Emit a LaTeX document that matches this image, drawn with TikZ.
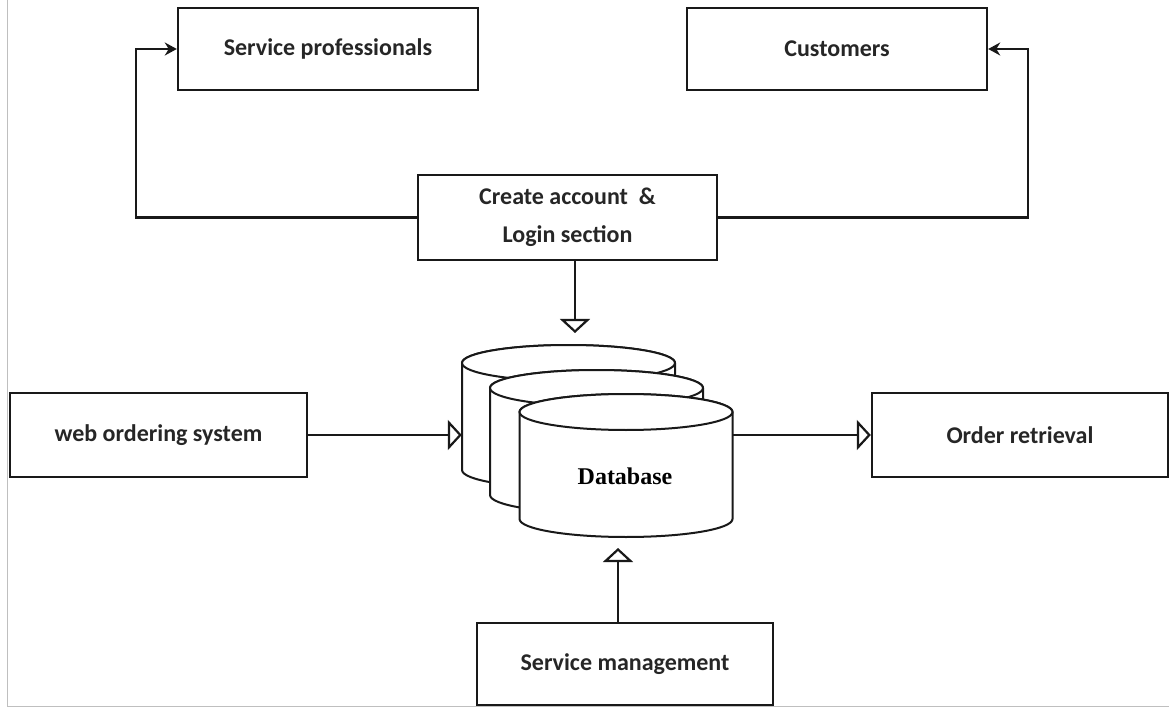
\documentclass[tikz,border=0pt]{standalone}
\usepackage{fontspec}
\setmainfont{Carlito}
\newfontfamily\dbfont{Liberation Serif}
\usetikzlibrary{arrows.meta,calc}
\newcommand{\dbcyl}[4]{%
  \path[cyl] ({#1-106.5},#2) -- ({#1-106.5},#3)
    arc[start angle=180,end angle=360,x radius=106.5pt,y radius=18pt]
    -- ({#1+106.5},#2)
    arc[start angle=0,end angle=180,x radius=106.5pt,y radius=18pt] -- cycle;
  \draw[cyl] (#1,#2) ellipse[x radius=106.5pt,y radius=18pt];
  \node[inner sep=0pt,minimum width=213pt,minimum height={#3-#2+36}] (#4) at (#1,{(#2+#3)/2}) {};
}
\begin{document}
\begin{tikzpicture}[x=1pt,y=-1pt,
  box/.style={draw=black!90,line width=2.4pt,fill=white,inner sep=0pt,
    font=\fontsize{24}{28}\selectfont\bfseries,text=black!85,align=center},
  conn/.style={draw=black!90,line width=2.2pt},
  solidtip/.style={-{Stealth[length=12pt,width=13pt]}},
  opentip/.style={-{Triangle[open,length=14pt,width=30pt]}},
  cyl/.style={draw=black!90,line width=2pt,fill=white}]
\useasboundingbox (0,0) rectangle (1169,708);
\fill[white] (0,0) rectangle (1169,708);
\draw[black!25,line width=1pt] (7,0) -- (7,706) -- (1169,706);

\node[box,minimum width=300pt,minimum height=82pt] (sp) at (328,49) {Service professionals};
\node[box,minimum width=300pt,minimum height=82pt] (cu) at (837,49) {Customers};
\node[box,minimum width=299pt,minimum height=85pt,font=\fontsize{24}{38}\selectfont\bfseries] (create) at (567.5,217.5) {Create account\ \ \&\\Login section};
\node[box,minimum width=297pt,minimum height=84pt] (web) at (158.5,435) {web ordering system};
\node[box,minimum width=296pt,minimum height=84pt] (ord) at (1020,435) {Order retrieval};
\node[box,minimum width=296pt,minimum height=82pt] (sm) at (625,664) {Service management};

\dbcyl{568.5}{363}{470}{db1}
\dbcyl{596.5}{388}{495}{db2}
\dbcyl{626}{412}{519}{db3}
\node[font=\dbfont\fontsize{24}{28}\selectfont\bfseries,text=black] (dbl) at (625,476) {Database};

\draw[conn,solidtip] (create.west) -- ++(-281,0) |- (sp.west);
\draw[conn,solidtip] (create.east) -- ++(310,0) |- (cu.east);
\coordinate (cin) at (575,333);
\draw[conn,opentip] (create.south -| cin) -- (cin);
\draw[conn,opentip] (web.east) -- (web.east -| db1.west);
\draw[conn,opentip] (db3.east |- ord.west) -- (ord.west);
\coordinate (sin) at (618,548);
\draw[conn,opentip] (sm.north -| sin) -- (sin);
\end{tikzpicture}
\end{document}
